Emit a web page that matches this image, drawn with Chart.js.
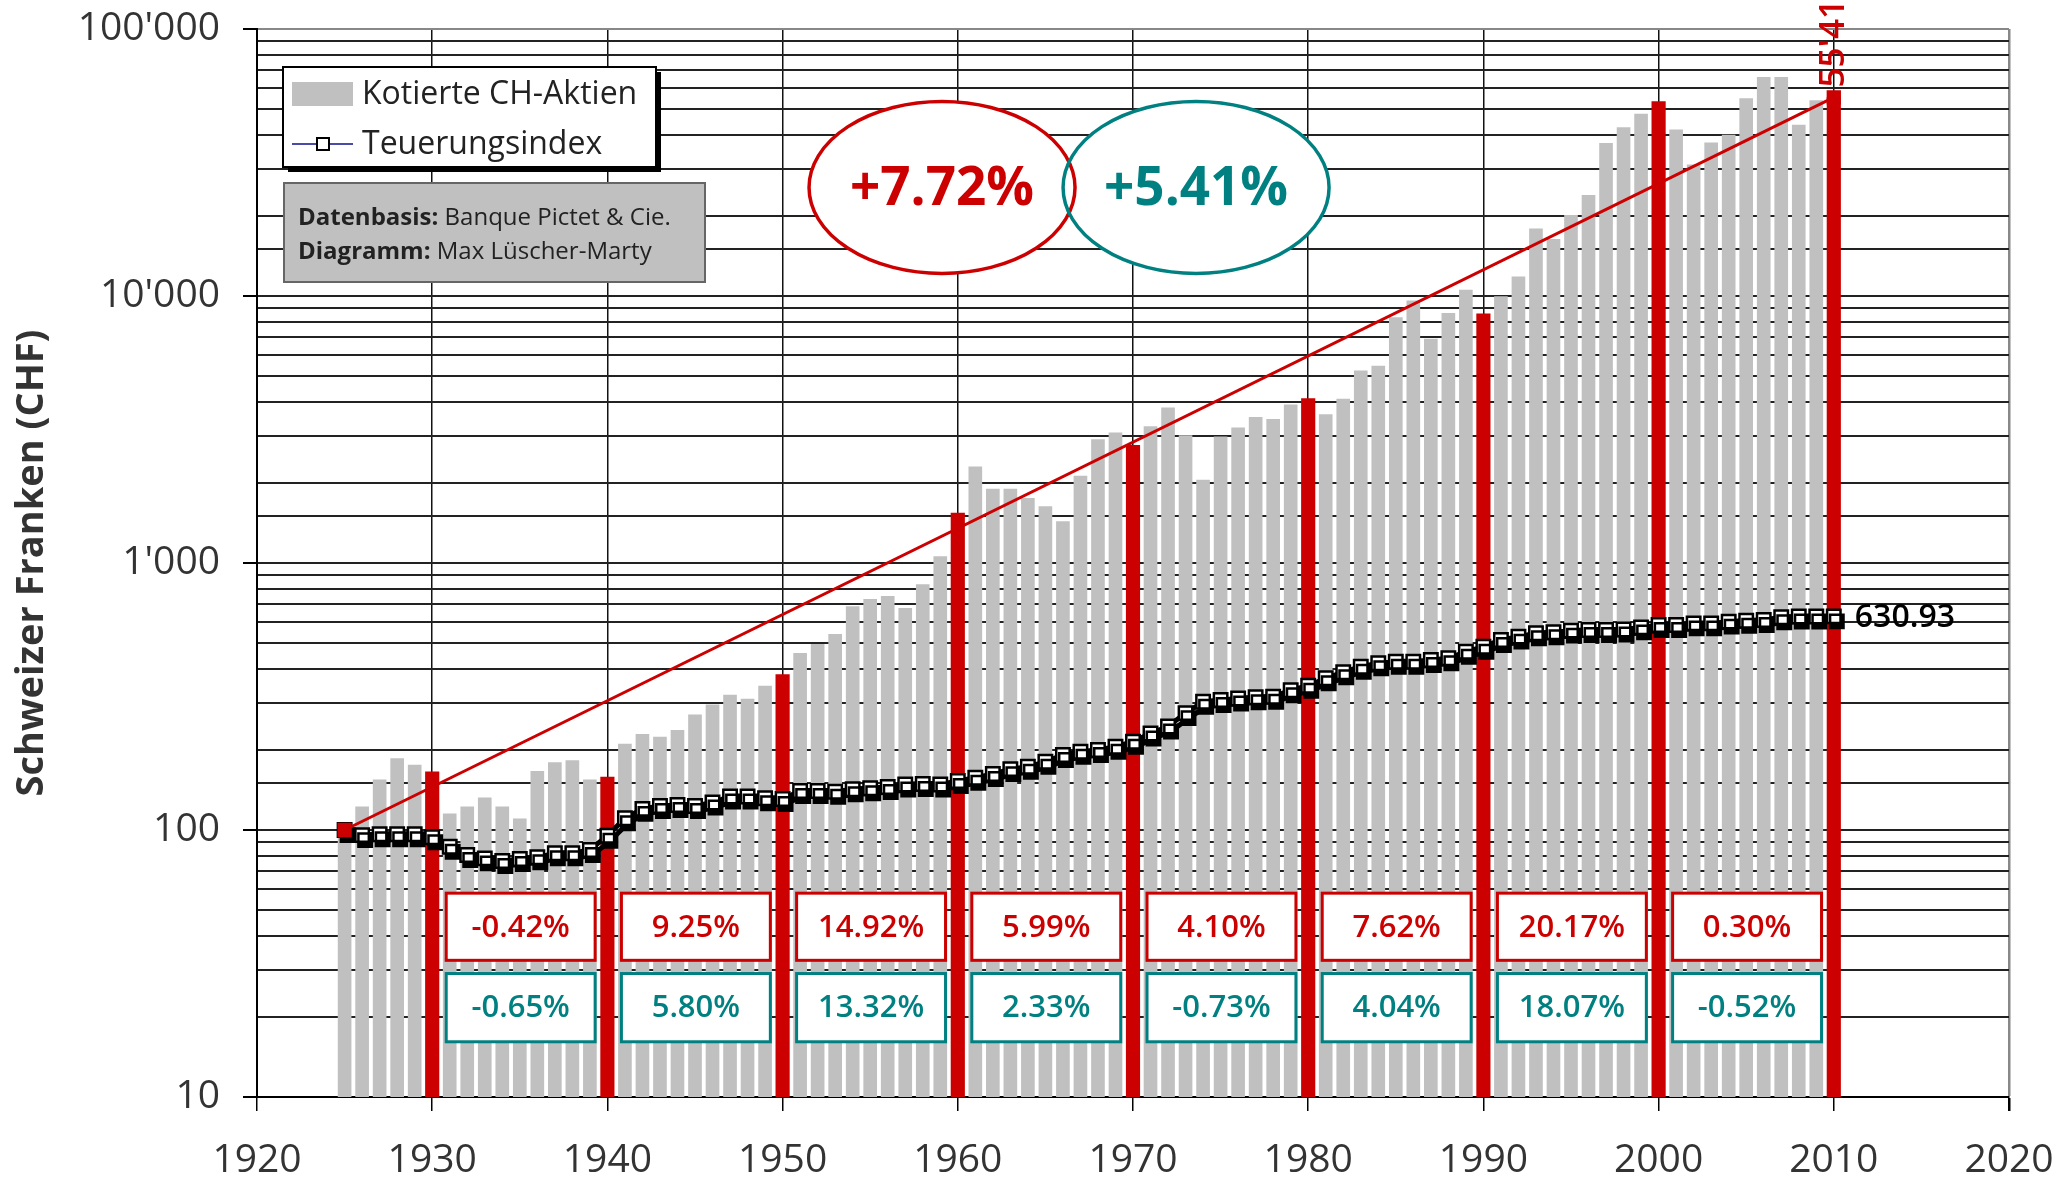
<!DOCTYPE html>
<html lang="de">
<head>
<meta charset="utf-8">
<title>Kotierte CH-Aktien und Teuerungsindex 1925-2010</title>
<script src="https://cdn.jsdelivr.net/npm/chart.js@4.4.1/dist/chart.umd.min.js"></script>
<style>
  html, body { margin: 0; padding: 0; background: #fff; }
  #wrap { width: 2057px; height: 1179px; position: relative; }
</style>
</head>
<body>
<div id="wrap"><canvas id="stockChart"></canvas></div>
<script>
// Jahre 1925-2010
const years = [1925, 1926, 1927, 1928, 1929, 1930, 1931, 1932, 1933, 1934, 1935, 1936, 1937, 1938, 1939,
  1940, 1941, 1942, 1943, 1944, 1945, 1946, 1947, 1948, 1949, 1950, 1951, 1952, 1953, 1954, 1955, 1956, 1957,
  1958, 1959, 1960, 1961, 1962, 1963, 1964, 1965, 1966, 1967, 1968, 1969, 1970, 1971, 1972, 1973, 1974, 1975,
  1976, 1977, 1978, 1979, 1980, 1981, 1982, 1983, 1984, 1985, 1986, 1987, 1988, 1989, 1990, 1991, 1992, 1993,
  1994, 1995, 1996, 1997, 1998, 1999, 2000, 2001, 2002, 2003, 2004, 2005, 2006, 2007, 2008, 2009, 2010];

// Kotierte CH-Aktien (CHF, 1925 = 100)
const stocks = [100, 122, 154, 185, 175, 165, 115, 122, 132, 122, 110, 166, 179, 182, 154,
  158, 210, 228, 223, 236, 270, 294, 320, 309, 346, 382, 459, 496, 541, 686, 731, 750, 676,
  830, 1057, 1538, 2290, 1890, 1890, 1745, 1625, 1430, 2115, 2900, 3070, 2760, 3240, 3810, 3000, 2045, 2970,
  3210, 3510, 3455, 3910, 4130, 3600, 4110, 5240, 5470, 8300, 9600, 6900, 8620, 10520, 8580, 9960, 11790, 17860,
  16300, 20050, 23830, 37300, 42740, 47970, 53460, 41900, 30970, 37500, 40080, 54850, 65920, 65920, 43670, 53950, 55414];

// Teuerungsindex (1925 = 100)
const cpi = [100, 95.7, 96.4, 96.4, 96.4, 93.9, 86.6, 80.6, 78.3, 76.5, 77.9, 79, 81.8, 81.8, 84.2,
  95.2, 110.6, 120, 123, 124, 123, 126.7, 133.5, 133.5, 131.5, 130.6, 140, 140, 139, 142, 143.3, 145, 148,
  148.6, 148, 152.6, 157, 162, 169, 172.6, 180, 191, 196.5, 199.4, 205, 214, 230, 244, 274, 302, 307,
  311, 314, 315.6, 334, 347, 370, 390, 409, 421, 427, 427, 433, 440, 465, 486, 515, 530, 546,
  550, 558, 561, 561, 564, 574, 586, 586, 594, 594, 603, 608, 612, 626, 630, 630, 630.93];

// Trendlinie Aktien
const trendYears = [1925, 2010];
const trendValues = [100, 55414];

// Jahresrenditen pro Jahrzehnt
const decadeStarts = [1930, 1940, 1950, 1960, 1970, 1980, 1990, 2000];
const nominalReturns = [-0.42, 9.25, 14.92, 5.99, 4.10, 7.62, 20.17, 0.30];
const realReturns = [-0.65, 5.80, 13.32, 2.33, -0.73, 4.04, 18.07, -0.52];
const overallNominal = 7.72;
const overallReal = 5.41;

const yTicks = [10, 100, 1000, 10000, 100000];

const RED = '#cc0000';
const TEAL = '#008080';
const FONT = '"Open Sans", "Noto Sans", sans-serif';

function swiss(v) {
  return String(Math.round(v)).replace(/\B(?=(\d{3})+(?!\d))/g, "'");
}
function pct(v) {
  return v.toFixed(2) + '%';
}

const stockBars = [];
const decadeBars = [];
years.forEach(function (y, i) {
  if (y % 10 === 0) decadeBars.push({ x: y, y: stocks[i] });
  else stockBars.push({ x: y, y: stocks[i] });
});

// no automatic label padding, the layout padding decides the plot area
function noPad(s) {
  s.paddingTop = 0;
  s.paddingBottom = 0;
  s.paddingLeft = 0;
  s.paddingRight = 0;
}

const CPI_INDEX = 3;

const decor = {
  id: 'decor',
  beforeDatasetDraw(chart, args) {
    if (args.index === CPI_INDEX) {
      const ctx = chart.ctx;
      ctx.save();
      ctx.shadowColor = '#000';
      ctx.shadowOffsetX = 3;
      ctx.shadowOffsetY = 5;
      ctx.shadowBlur = 0;
    }
  },
  afterDatasetDraw(chart, args) {
    if (args.index === CPI_INDEX) chart.ctx.restore();
  },
  afterDatasetsDraw(chart) {
    const ctx = chart.ctx;
    const xs = chart.scales.x;
    const ys = chart.scales.y;
    const area = chart.chartArea;

    // decade boxes
    ctx.save();
    ctx.textAlign = 'center';
    ctx.textBaseline = 'middle';
    ctx.font = '600 31px ' + FONT;
    decadeStarts.forEach(function (d, i) {
      const x1 = xs.getPixelForValue(d + 0.8);
      const x2 = xs.getPixelForValue(d + 9.3);
      const boxes = [
        [58, 32.5, RED, pct(nominalReturns[i])],
        [29, 16.1, TEAL, pct(realReturns[i])]
      ];
      boxes.forEach(function (b) {
        const y1 = ys.getPixelForValue(b[0]);
        const y2 = ys.getPixelForValue(b[1]);
        ctx.fillStyle = '#fff';
        ctx.fillRect(x1, y1, x2 - x1, y2 - y1);
        ctx.strokeStyle = b[2];
        ctx.lineWidth = 3;
        ctx.strokeRect(x1, y1, x2 - x1, y2 - y1);
        ctx.fillStyle = b[2];
        ctx.fillText(b[3], (x1 + x2) / 2, (y1 + y2) / 2 + 1);
      });
    });
    ctx.restore();

    // ellipses with overall rates
    const ells = [
      [xs.getPixelForValue(1959.1), ys.getPixelForValue(25500), RED, '+' + pct(overallNominal)],
      [xs.getPixelForValue(1973.6), ys.getPixelForValue(25500), TEAL, '+' + pct(overallReal)]
    ];
    ctx.save();
    ells.forEach(function (e) {
      ctx.beginPath();
      ctx.ellipse(e[0], e[1], 133, 86, 0, 0, Math.PI * 2);
      ctx.fillStyle = '#fff';
      ctx.fill();
    });
    ells.forEach(function (e) {
      ctx.beginPath();
      ctx.ellipse(e[0], e[1], 133, 86, 0, 0, Math.PI * 2);
      ctx.strokeStyle = e[2];
      ctx.lineWidth = 3.5;
      ctx.stroke();
      ctx.fillStyle = e[2];
      ctx.font = 'bold 53px ' + FONT;
      ctx.textAlign = 'center';
      ctx.textBaseline = 'middle';
      ctx.fillText(e[3], e[0], e[1] + 2);
    });
    ctx.restore();

    // end labels
    ctx.save();
    const xEnd = xs.getPixelForValue(years[years.length - 1]);
    ctx.fillStyle = '#000';
    ctx.font = '600 32px ' + FONT;
    ctx.textAlign = 'left';
    ctx.textBaseline = 'middle';
    ctx.fillText(cpi[cpi.length - 1].toFixed(2), xEnd + 21, ys.getPixelForValue(cpi[cpi.length - 1]) + 1);
    ctx.translate(xEnd, ys.getPixelForValue(trendValues[1]) - 10);
    ctx.rotate(-Math.PI / 2);
    ctx.fillStyle = RED;
    ctx.font = '600 35px ' + FONT;
    ctx.fillText(swiss(trendValues[1]), 0, 0);
    ctx.restore();

    // legend box
    const L = area.left, T = area.top;
    ctx.save();
    ctx.fillStyle = '#000';
    ctx.fillRect(L + 31, T + 43, 373, 100);
    ctx.fillStyle = '#fff';
    ctx.fillRect(L + 26, T + 38, 373, 100);
    ctx.strokeStyle = '#000';
    ctx.lineWidth = 2;
    ctx.strokeRect(L + 26, T + 38, 373, 100);
    ctx.fillStyle = '#c0c0c0';
    ctx.fillRect(L + 35, T + 53, 61, 24);
    ctx.strokeStyle = '#4a4aa8';
    ctx.lineWidth = 2;
    ctx.beginPath();
    ctx.moveTo(L + 35, T + 115);
    ctx.lineTo(L + 96, T + 115);
    ctx.stroke();
    ctx.fillStyle = '#fff';
    ctx.fillRect(L + 60, T + 109, 12, 12);
    ctx.strokeStyle = '#000';
    ctx.strokeRect(L + 60, T + 109, 12, 12);
    ctx.fillStyle = '#222';
    ctx.font = '32px ' + FONT;
    ctx.textAlign = 'left';
    ctx.textBaseline = 'middle';
    ctx.fillText('Kotierte CH-Aktien', L + 105, T + 66);
    ctx.fillText('Teuerungsindex', L + 105, T + 116);

    // source box
    ctx.fillStyle = '#c0c0c0';
    ctx.fillRect(L + 27, T + 154, 421, 99);
    ctx.strokeStyle = '#666';
    ctx.lineWidth = 2;
    ctx.strokeRect(L + 27, T + 154, 421, 99);
    const lines = [['Datenbasis:', ' Banque Pictet & Cie.'], ['Diagramm:', ' Max Lüscher-Marty']];
    lines.forEach(function (ln, i) {
      const ty = T + 189 + i * 34;
      ctx.fillStyle = '#222';
      ctx.font = 'bold 24px ' + FONT;
      ctx.fillText(ln[0], L + 41, ty);
      const w = ctx.measureText(ln[0]).width;
      ctx.font = '24px ' + FONT;
      ctx.fillText(ln[1], L + 41 + w, ty);
    });
    ctx.restore();
  }
};

const isPow10 = function (v) {
  return yTicks.indexOf(v) !== -1;
};

new Chart(document.getElementById('stockChart').getContext('2d'), {
  type: 'bar',
  data: {
    datasets: [
      {
        label: 'Kotierte CH-Aktien',
        data: stockBars,
        backgroundColor: '#c0c0c0',
        barThickness: 13,
        grouped: false,
        order: 4
      },
      {
        label: 'Kotierte CH-Aktien (Jahrzehnte)',
        data: decadeBars,
        backgroundColor: RED,
        barThickness: 13.5,
        grouped: false,
        order: 3
      },
      {
        type: 'line',
        label: 'Trend',
        data: trendYears.map(function (y, i) { return { x: y, y: trendValues[i] }; }),
        borderColor: RED,
        borderWidth: 3,
        pointStyle: 'rect',
        pointRadius: 8,
        pointBackgroundColor: RED,
        pointBorderColor: RED,
        order: 0
      },
      {
        type: 'line',
        label: 'Teuerungsindex',
        data: years.map(function (y, i) { return { x: y, y: cpi[i] }; }),
        borderColor: '#000',
        borderWidth: 5,
        pointStyle: 'rect',
        pointRadius: 9.5,
        pointBackgroundColor: '#fff',
        pointBorderColor: '#000',
        pointBorderWidth: 2.5,
        tension: 0,
        order: 1
      }
    ]
  },
  options: {
    responsive: true,
    maintainAspectRatio: false,
    animation: false,
    layout: { padding: { left: 0, right: 48, top: 29, bottom: 0 } },
    plugins: {
      legend: { display: false },
      tooltip: { enabled: false }
    },
    scales: {
      x: {
        type: 'linear',
        min: 1920,
        max: 2020,
        offset: false,
        grid: {
          offset: false,
          color: function (c) { return c.tick && c.tick.value === 2020 ? '#888' : '#111'; },
          lineWidth: function (c) { return c.tick && c.tick.value === 2020 ? 2.5 : 1.5; },
          tickColor: '#000',
          tickLength: 14
        },
        border: { color: '#000', width: 2 },
        ticks: {
          stepSize: 10,
          color: '#333',
          font: { family: FONT, size: 39 },
          padding: 26,
          callback: function (v) { return String(v); }
        },
        afterFit: function (s) { s.height = 82; noPad(s); }
      },
      y: {
        type: 'logarithmic',
        min: 10,
        max: 100000,
        grid: {
          color: function (c) { return c.tick && c.tick.value === 100000 ? '#888' : '#222'; },
          lineWidth: 2,
          tickColor: function (c) { return c.tick && isPow10(c.tick.value) ? '#000' : 'rgba(0,0,0,0)'; },
          tickLength: 14
        },
        border: { color: '#000', width: 2 },
        ticks: {
          autoSkip: false,
          color: '#333',
          font: { family: FONT, size: 39 },
          padding: 23,
          callback: function (v) { return isPow10(v) ? swiss(v) : ''; }
        },
        title: {
          display: true,
          text: 'Schweizer Franken (CHF)',
          color: '#333',
          font: { family: FONT, size: 38, weight: 'bold' },
          padding: { top: 9, bottom: 0 }
        },
        afterFit: function (s) { s.width = 257; noPad(s); }
      }
    }
  },
  plugins: [decor]
});
</script>
</body>
</html>
